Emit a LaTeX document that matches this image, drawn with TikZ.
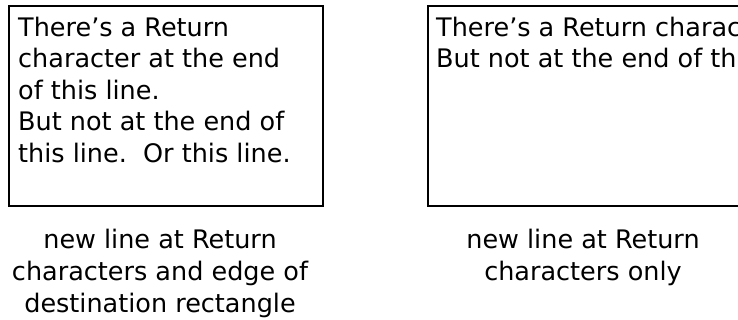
\documentclass[tikz,border=0pt]{standalone}
\usepackage{fontspec}
\setmainfont{DejaVu Sans}
\tikzstyle{destrect}=[draw=black,line width=2pt,minimum width=314pt,minimum height=200pt,inner sep=0pt]
\tikzstyle{wraptext}=[align=left,anchor=north west,inner sep=0pt,font=\fontsize{25.5}{31.6}\selectfont]
\tikzstyle{rectcap}=[align=center,anchor=north,inner sep=0pt,font=\fontsize{25.5}{32}\selectfont]

\begin{document}
\begin{tikzpicture}[x=1pt,y=-1pt]
\useasboundingbox (0,0) rectangle (738,320);
\begin{scope}
\clip (0,0) rectangle (738,320);
% wrapped at Return and at the rectangle edge
\node[destrect] (leftbox) at (166,106) {};
\node[wraptext] (lefttext) at (18,16.6) {There’s a Return\\character at the end\\of this line.\\But not at the end of\\this line.\ \ Or this line.};
\node[rectcap] (leftcap) at (160,228.6) {new line at Return\\characters and edge of\\destination rectangle};
% wrapped at Return only
\node[destrect] (rightbox) at (585,106) {};
\node[wraptext] (righttext) at (436,16.6) {There’s a Return character at the end of this line.\\But not at the end of this line.\ \ Or this line.};
\node[rectcap] (rightcap) at (583,228.6) {new line at Return\\characters only};
\end{scope}
\end{tikzpicture}
\end{document}
